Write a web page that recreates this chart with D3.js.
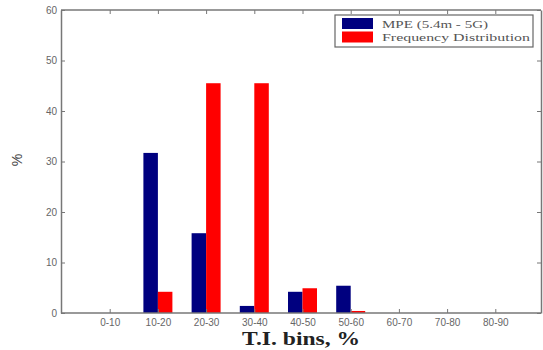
<!DOCTYPE html>
<html><head><meta charset="utf-8">
<script src="https://cdn.jsdelivr.net/npm/d3@7"></script>
<style>body{margin:0;background:#fff}svg{display:block}</style>
</head><body>
<script>
const categories = ["0-10","10-20","20-30","30-40","40-50","50-60","60-70","70-80","80-90"];
const mpeValues  = [0, 31.7, 15.8, 1.4, 4.2, 5.4, 0, 0, 0];
const freqValues = [0, 4.2, 45.5, 45.5, 4.9, 0.4, 0, 0, 0];
const yTicks = [0, 10, 20, 30, 40, 50, 60];
const seriesNames = ["MPE (5.4m - 5G)", "Frequency Distribution"];
const colors = ["#00007f", "#ff0000"];

const W = 543, H = 350;
const L = 61, R = 541, T = 10, B = 313;
const svg = d3.select("body").append("svg").attr("width", W).attr("height", H);

const x = d3.scaleLinear().domain([0, 10]).range([L + 0.5, R + 2.5]);
const y = d3.scaleLinear().domain([0, 60]).range([B, T]);
const bw = 14.5;

// bars
[mpeValues, freqValues].forEach((vals, s) => {
  svg.append("g").selectAll("rect").data(vals).join("rect")
    .attr("x", (d, i) => x(i + 1) + (s === 0 ? -bw : 0))
    .attr("width", bw)
    .attr("y", d => y(d))
    .attr("height", d => y(0) - y(d))
    .attr("fill", colors[s]);
});

// axes
const xt = d3.range(1, 10);
const axisStyle = g => {
  g.selectAll("path").attr("stroke", "#777").attr("stroke-width", 1.5);
  g.selectAll("line").attr("stroke", "#777");
  g.selectAll("text").attr("fill", "#666").style("font-family", "Liberation Sans, Arial").style("font-size", "10px");
};
svg.append("g").attr("class", "hx").attr("transform", `translate(0,${B})`)
  .call(d3.axisBottom(x).tickValues(xt).tickSize(-4).tickSizeOuter(0).tickPadding(6).tickFormat(i => categories[i - 1]))
  .call(axisStyle);
svg.append("g").attr("class", "hx").attr("transform", `translate(0,${T})`)
  .call(d3.axisTop(x).tickValues(xt).tickSize(-4).tickSizeOuter(0).tickFormat(""))
  .call(axisStyle);
svg.selectAll(".hx .domain").remove();
svg.append("path").attr("d", `M${L},${B}H${R}`).attr("stroke", "#777").attr("stroke-width", 1.5);
svg.append("path").attr("d", `M${L},${T}H${R}`).attr("stroke", "#777").attr("stroke-width", 1.5);
svg.append("g").attr("transform", `translate(${L},0)`)
  .call(d3.axisLeft(y).tickValues(yTicks).tickSize(-4).tickSizeOuter(0).tickPadding(4))
  .call(axisStyle);
svg.append("g").attr("transform", `translate(${R},0)`)
  .call(d3.axisRight(y).tickValues(yTicks).tickSize(-4).tickSizeOuter(0).tickFormat(""))
  .call(axisStyle);

// axis labels
svg.append("text").attr("x", (L + R) / 2).attr("y", 345).attr("text-anchor", "middle")
  .attr("textLength", 118).attr("lengthAdjust", "spacingAndGlyphs")
  .style("font-family", "Liberation Serif, Times New Roman, serif").style("font-weight", "bold")
  .style("font-size", "18px").attr("fill", "#222").text("T.I. bins, %");
svg.append("text").attr("transform", "translate(22,160) rotate(-90)").attr("text-anchor", "middle")
  .style("font-family", "Liberation Sans, Arial").style("font-size", "14px").attr("fill", "#444").text("%");

// legend
const lg = svg.append("g");
lg.append("rect").attr("x", 335).attr("y", 15).attr("width", 198).attr("height", 32)
  .attr("fill", "#fff").attr("stroke", "#666").attr("stroke-width", 1.2);
seriesNames.forEach((n, i) => {
  lg.append("rect").attr("x", 342).attr("y", 18 + i * 13.5).attr("width", 31).attr("height", 11).attr("fill", colors[i]);
  lg.append("text").attr("x", 382).attr("y", 27.5 + i * 13.5)
    .attr("textLength", i === 0 ? 106 : 148).attr("lengthAdjust", "spacingAndGlyphs")
    .style("font-family", "Liberation Serif, Times New Roman, serif").style("font-size", "11px")
    .attr("fill", "#555").text(n);
});
</script>
</body></html>
